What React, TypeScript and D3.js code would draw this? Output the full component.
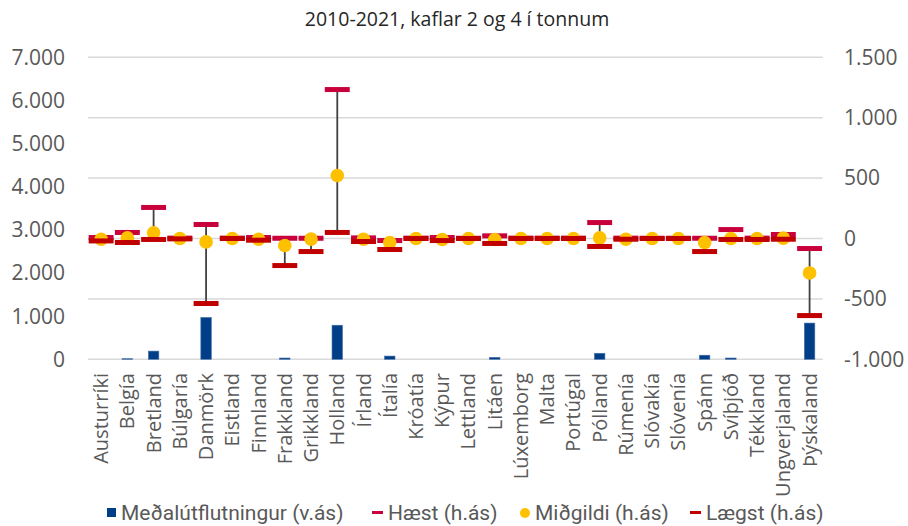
import React from "react";
import * as d3 from "d3";

const categories = [
  "Austurríki", "Belgía", "Bretland", "Búlgaría", "Danmörk", "Eistland", "Finnland",
  "Frakkland", "Grikkland", "Holland", "Írland", "Ítalía", "Króatía", "Kýpur",
  "Lettland", "Litáen", "Lúxemborg", "Malta", "Portúgal", "Pólland", "Rúmenía",
  "Slóvakía", "Slóvenía", "Spánn", "Svíþjóð", "Tékkland", "Ungverjaland", "Þýskaland",
];
const avgExport = [0, 15, 190, 0, 970, 0, 0, 30, 0, 790, 0, 75, 0, 0, 0, 45, 0, 0, 0, 140, 0, 0, 0, 95, 30, 0, 0, 840];
const high = [8, 50, 257, 3, 116, 3, 8, 2, 2, 1233, 5, -17, 3, 8, 2, 22, 3, 3, 3, 132, 3, 2, 2, 2, 74, 3, 33, -83];
const median = [-6, 5, 47, 0, -28, 0, -6, -58, -5, 521, -6, -33, 0, -8, 0, -8, 0, 0, 0, 5, -6, 0, 0, -33, 0, 0, 3, -285];
const low = [-20, -33, -8, -3, -538, 0, -14, -224, -108, 50, -25, -91, 0, -17, 0, -41, 0, 0, 0, -66, -6, 0, 0, -108, -8, -8, -6, -638];

const leftTicks = [0, 1000, 2000, 3000, 4000, 5000, 6000, 7000];
const rightTicks = [-1000, -500, 0, 500, 1000, 1500];
const title = "2010-2021, kaflar 2 og 4 í tonnum";
const legendLabels = ["Meðalútflutningur (v.ás)", "Hæst (h.ás)", "Miðgildi (h.ás)", "Lægst (h.ás)"];

const W = 908, H = 526;
const plot = { left: 88, right: 822.7, top: 57.3, bottom: 359.3 };
const C = {
  bar: "#003F87", high: "#C8003C", median: "#FFC000", low: "#C00000",
  line: "#404040", grid: "#D9D9D9", text: "#595959",
};

const fmt = (v: number) => {
  const s = d3.format(",")(Math.abs(v)).replace(/,/g, ".");
  return (v < 0 ? "-" : "") + s;
};

export default function App() {
  const x = d3.scaleBand<string>().domain(categories).range([plot.left, plot.right]).paddingInner(0).paddingOuter(0);
  const yL = d3.scaleLinear().domain([0, 7000]).range([plot.bottom, plot.top]);
  const yR = d3.scaleLinear().domain([-1000, 1500]).range([plot.bottom, plot.top]);
  const bw = x.bandwidth();
  const barW = bw * 0.4;
  const dashW = bw * 0.95;
  const dashH = 5;
  const cx = (c: string) => (x(c) as number) + bw / 2;

  return (
    <div style={{ position: "absolute", left: 0, top: 0 }}>
      <svg width={W} height={H} style={{ display: "block", background: "#fff" }}>
        <text x={457} y={26} textAnchor="middle" fontFamily="Open Sans" fontSize={19.5} fill="#262626">{title}</text>
        {rightTicks.map((t) => (
          <line key={"g" + t} x1={plot.left} x2={plot.right} y1={yR(t)} y2={yR(t)} stroke={C.grid} strokeWidth={1.5} />
        ))}
        {leftTicks.map((t) => (
          <text key={"l" + t} x={65} y={yL(t)} dy="0.35em" textAnchor="end" fontFamily="Open Sans" fontSize={21} fill={C.text}>{fmt(t)}</text>
        ))}
        {rightTicks.map((t) => (
          <text key={"r" + t} x={844} y={yR(t)} dy="0.35em" textAnchor="start" fontFamily="Open Sans" fontSize={21} fill={C.text}>{fmt(t)}</text>
        ))}
        {categories.map((c, i) => (
          avgExport[i] > 0 ? (
            <rect key={"b" + c} x={cx(c) - barW / 2} y={yL(avgExport[i])} width={barW} height={plot.bottom - yL(avgExport[i])} fill={C.bar} stroke="#4A72AC" strokeWidth={0.6} />
          ) : null
        ))}
        {categories.map((c, i) => (
          <line key={"e" + c} x1={cx(c)} x2={cx(c)} y1={yR(high[i])} y2={yR(low[i])} stroke={C.line} strokeWidth={1.8} />
        ))}
        {categories.map((c, i) => (
          <rect key={"h" + c} x={cx(c) - dashW / 2} y={yR(high[i]) - dashH / 2} width={dashW} height={dashH} fill={C.high} />
        ))}
        {categories.map((c, i) => (
          <circle key={"m" + c} cx={cx(c)} cy={yR(median[i])} r={6.8} fill={C.median} />
        ))}
        {categories.map((c, i) => (
          <rect key={"lo" + c} x={cx(c) - dashW / 2} y={yR(low[i]) - dashH / 2} width={dashW} height={dashH} fill={C.low} />
        ))}
        {categories.map((c) => (
          <text key={"x" + c} transform={`translate(${cx(c)},373) rotate(-90)`} dy="0.35em" textAnchor="end" fontFamily="Open Sans" fontSize={20} fill={C.text}>{c}</text>
        ))}
        <g fontFamily="Roboto" fontSize={21} fill={C.text}>
          <rect x={107} y={508} width={9} height={9} fill={C.bar} />
          <text x={121} y={513} dy="0.35em">{legendLabels[0]}</text>
          <rect x={372} y={511} width={11} height={3} fill={C.high} />
          <text x={388} y={513} dy="0.35em">{legendLabels[1]}</text>
          <circle cx={525} cy={513} r={5} fill={C.median} />
          <text x={535} y={513} dy="0.35em">{legendLabels[2]}</text>
          <rect x={690} y={511} width={11} height={3} fill={C.low} />
          <text x={706} y={513} dy="0.35em">{legendLabels[3]}</text>
        </g>
      </svg>
    </div>
  );
}
